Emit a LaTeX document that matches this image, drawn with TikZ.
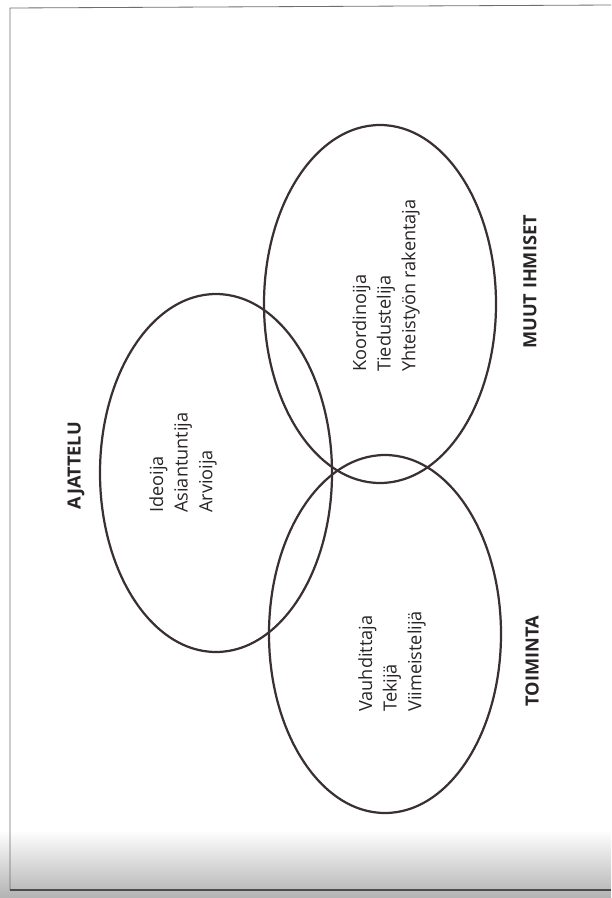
\documentclass[tikz,border=0pt]{standalone}
\usepackage{fontspec}
\setmainfont{Open Sans}
\usetikzlibrary{shapes.geometric}
\definecolor{inkline}{RGB}{58,48,52}
\definecolor{inktext}{RGB}{40,36,40}
\definecolor{frameline}{RGB}{110,110,110}
\tikzset{
  venn/.style={draw=inkline, line width=1.9pt, ellipse, inner sep=0pt, minimum width=69.6mm, minimum height=107.4mm},
  roles/.style={rotate=90, anchor=west, align=left, inner sep=0pt, text=inktext, font=\fontsize{15.5}{21}\selectfont},
  area/.style={rotate=90, inner sep=0pt, text=inktext, font=\fontsize{15.5}{19}\selectfont\bfseries},
}

\begin{document}
\begin{tikzpicture}[x=0.3mm, y=-0.3mm]
	%%%%% START %%%%%
	
	\useasboundingbox (0,0) rectangle (611,898);
	\shade[top color=white, bottom color=black!30] (0,830) rectangle (611,898);
	
	\draw[frameline, line width=0.7pt] (611,5) -- (10,8) -- (10,890);
	\draw[black!70, line width=1.4pt] (10,890) -- (611,890);
	
	\node[venn] (muut) at (380,304) {};
	\node[venn] (ajattelu) at (216,473) {};
	\node[venn] (toiminta) at (385,634) {};
	
	\node[roles] (ajattelurooli) at (183,513) {Ideoija\\Asiantuntija\\Arvioija};
	\node[roles] (muutrooli) at (386,372) {Koordinoija\\Tiedustelija\\Yhteistyön rakentaja};
	\node[roles] (toimintarooli) at (392,712) {Vauhdittaja\\Tekijä\\Viimeistelijä};
	
	\node[area] (ajattelulbl) at (76,466) {AJATTELU};
	\node[area] (muutlbl) at (530,282) {MUUT IHMISET};
	\node[area] (toimintalbl) at (532,661) {TOIMINTA};
	
	%%%%% END %%%%%
\end{tikzpicture}
\end{document}
